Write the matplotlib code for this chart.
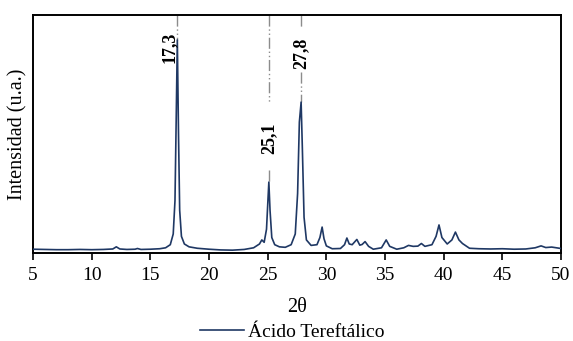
import matplotlib
matplotlib.use("Agg")
import matplotlib.pyplot as plt

# digitised XRD pattern (2theta, intensity a.u.)
two_theta = [5.0, 6.0, 7.0, 8.0, 9.0, 10.0, 11.0, 11.8, 12.1, 12.4, 13.0, 13.7,
             13.9, 14.2, 15.0, 15.8, 16.3, 16.7, 16.95, 17.1, 17.2, 17.3, 17.4,
             17.5, 17.65, 17.9, 18.3, 19.0, 20.0, 21.0, 22.0, 23.0, 23.8, 24.3,
             24.5, 24.7, 24.9, 25.0, 25.1, 25.2, 25.35, 25.6, 26.0, 26.5, 27.0,
             27.35, 27.55, 27.7, 27.85, 27.95, 28.1, 28.3, 28.7, 29.2, 29.45,
             29.64, 29.8, 30.0, 30.5, 31.2, 31.55, 31.75, 31.95, 32.2, 32.6,
             32.85, 33.05, 33.3, 33.6, 34.0, 34.7, 35.1, 35.4, 36.0, 36.6, 37.0,
             37.4, 37.8, 38.1, 38.4, 39.0, 39.35, 39.6, 39.85, 40.3, 40.7, 41.0,
             41.3, 41.6, 42.2, 43.0, 44.0, 45.0, 46.0, 47.0, 47.8, 48.3, 48.7,
             49.2, 50.0]
intensity = [1.6, 1.5, 1.4, 1.4, 1.5, 1.4, 1.5, 1.7, 2.6, 1.7, 1.5, 1.6,
             1.9, 1.5, 1.6, 1.8, 2.2, 3.5, 8.0, 22.0, 55.0, 89.5, 50.0,
             18.0, 7.0, 3.8, 2.6, 2.0, 1.6, 1.3, 1.2, 1.5, 2.2, 3.8,
             5.5, 4.5, 10.0, 20.0, 29.8, 18.0, 6.5, 3.5, 2.6, 2.4, 3.5,
             8.0, 25.0, 55.0, 63.4, 45.0, 15.0, 5.5, 3.2, 3.5, 6.5,
             10.9, 6.0, 3.0, 1.8, 1.9, 3.5, 6.3, 3.8, 3.5, 5.7,
             3.3, 3.6, 4.8, 2.8, 1.6, 2.2, 5.5, 2.8, 1.6, 2.2, 3.2,
             2.8, 2.9, 4.0, 2.8, 3.5, 7.0, 11.8, 6.5, 3.8, 5.5, 8.8,
             5.5, 4.0, 2.0, 1.8, 1.7, 1.8, 1.6, 1.7, 2.2, 3.0, 2.3,
             2.5, 1.9]

# labelled peaks: position, label, line segments (y from, y to), label centre
peak_pos = [17.3, 25.1, 27.85]
peak_labels = ["17,3", "25,1", "27,8"]
peak_segments = [[(100, 89.5)], [(100, 63), (35, 29.8)], [(100, 95), (76, 63.4)]]
label_x = [16.6, 25.1, 27.85]
label_y = [86.5, 48.0, 84.0]

plt.rcParams["font.family"] = ["Liberation Serif", "DejaVu Serif"]

fig = plt.figure(figsize=(5.73, 3.41), dpi=100)
ax = fig.add_axes([0.0576, 0.258, 0.9215, 0.698])

ax.plot(two_theta, intensity, color="#1f3864", lw=1.2, label="Ácido Tereftálico",
        zorder=3)

for pos, segs in zip(peak_pos, peak_segments):
    for y0, y1 in segs:
        ax.plot([pos, pos], [y0, y1], color="#8c8c8c", lw=1.0,
                linestyle=(0, (8, 2, 1, 2, 1, 2)), zorder=2)

for lx, ly, txt in zip(label_x, label_y, peak_labels):
    ax.text(lx, ly, txt, rotation=90, ha="center", va="center",
            fontsize=13, fontweight="bold")

ax.set_xlim(5, 50)
ax.set_ylim(0, 100)
ax.set_xticks(range(5, 51, 5))
ax.set_yticks([])
ax.tick_params(axis="x", direction="out", length=5, width=1.2, labelsize=14,
               pad=5)
for sp in ax.spines.values():
    sp.set_linewidth(1.4)

ax.set_xlabel("2θ", fontsize=14.5, labelpad=10)
ax.set_ylabel("Intensidad (u.a.)", fontsize=14.5, labelpad=4)

fig.legend(loc="lower center", bbox_to_anchor=(0.51, -0.05), frameon=False,
           fontsize=14, handlelength=2.3, handletextpad=0.2)

fig.savefig("out.png", dpi=100)
